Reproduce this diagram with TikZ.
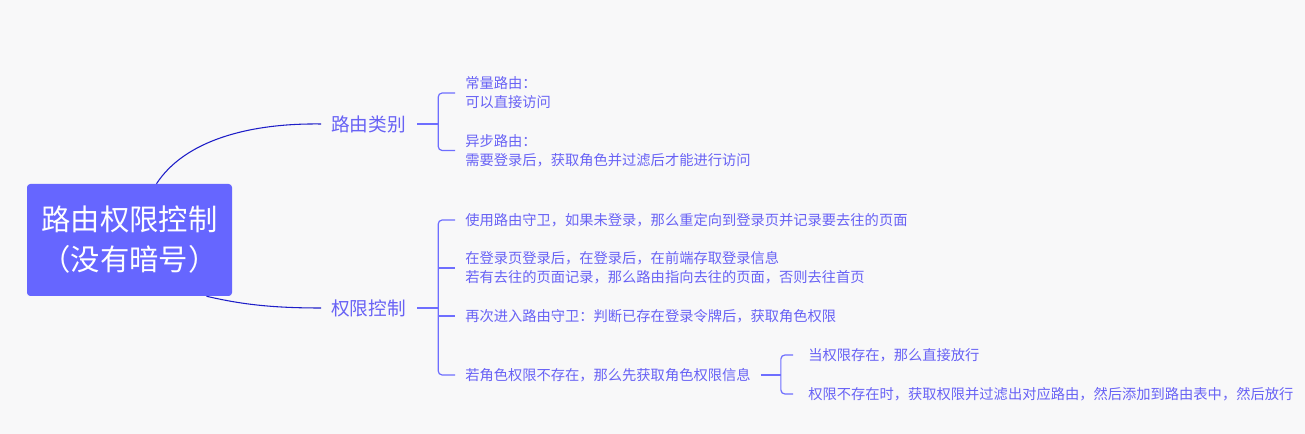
\documentclass[tikz,border=0pt]{standalone}
\usepackage{fontspec}
\setmainfont{Noto Sans CJK SC}
\usetikzlibrary{calc}
\definecolor{bg}{RGB}{248,248,249}
\definecolor{rootc}{RGB}{102,102,255}
\definecolor{txt}{RGB}{104,98,245}
\definecolor{conn}{RGB}{30,30,200}
\definecolor{brc}{RGB}{110,110,255}
\tikzset{
  rootbox/.style={fill=rootc,rounded corners=2.5pt,text=white,align=center,
    minimum width=153.75pt,minimum height=84pt,inner sep=0pt,
    font=\fontsize{22}{30}\selectfont},
  lvlone/.style={anchor=west,inner sep=0pt,text=txt,font=\fontsize{14}{17}\selectfont},
  leaf/.style={anchor=west,inner sep=0pt,text=txt,align=left,font=\fontsize{10.7}{14.25}\selectfont},
  mainconn/.style={draw=conn,line width=0.8pt},
  brline/.style={draw=brc,line width=0.9pt,rounded corners=3pt}
}
\begin{document}
\begin{tikzpicture}[x=0.75pt,y=-0.75pt]
\fill[bg] (0,0) rectangle (1305,434);
\useasboundingbox (0,0) rectangle (1305,434);

\node[rootbox] (root) at (129.5,240) {路由权限控制\\（没有暗号）};

\node[lvlone] (b1) at (331,124) {路由类别};
\node[lvlone] (b2) at (331,308) {权限控制};

\coordinate (r1) at ($(root.north)+(27,0)$);
\coordinate (r2) at ($(root.south)+(77,0)$);
\draw[mainconn] (r1) .. controls (185,140) and (250,123) .. ($(b1.west)+(-10,0)$);
\draw[mainconn] (r2) .. controls (240,304) and (270,308) .. ($(b2.west)+(-10,0)$);

% leaves of branch 1
\node[leaf] (a1) at (465,93) {常量路由：\\可以直接访问};
\node[leaf] (a2) at (465,150.5) {异步路由：\\需要登录后，获取角色并过滤后才能进行访问};

\coordinate (k1) at ($(b1.east)+(32,0)$);
\draw[brline] ($(b1.east)+(11,0)$) -- (k1);
\draw[brline] ($(a1.west)+(-10,0)$) -| (k1) |- ($(a2.west)+(-10,0)$);

% leaves of branch 2
\node[leaf] (c1) at (465,220) {使用路由守卫，如果未登录，那么重定向到登录页并记录要去往的页面};
\node[leaf] (c2) at (465,268) {在登录页登录后，在登录后，在前端存取登录信息\\若有去往的页面记录，那么路由指向去往的页面，否则去往首页};
\node[leaf] (c3) at (465,316) {再次进入路由守卫：判断已存在登录令牌后，获取角色权限};
\node[leaf] (c4) at (465,375) {若角色权限不存在，那么先获取角色权限信息};

\coordinate (k2) at ($(b2.east)+(32,0)$);
\draw[brline] ($(b2.east)+(11,0)$) -- (k2);
\draw[brline] ($(c1.west)+(-10,0)$) -| (k2) |- ($(c4.west)+(-10,0)$);
\draw[brline] (k2 |- c2.west) -- ($(c2.west)+(-10,0)$);
\draw[brline] (k2 |- c3.west) -- ($(c3.west)+(-10,0)$);

% leaves of c4
\node[leaf] (d1) at (808,355) {当权限存在，那么直接放行};
\node[leaf] (d2) at (808,394) {权限不存在时，获取权限并过滤出对应路由，然后添加到路由表中，然后放行};

\coordinate (k3) at ($(c4.east)+(30,0)$);
\draw[brline] ($(c4.east)+(10,0)$) -- (k3);
\draw[brline] ($(d1.west)+(-15,0)$) -| (k3) |- ($(d2.west)+(-15,0)$);
\end{tikzpicture}
\end{document}
